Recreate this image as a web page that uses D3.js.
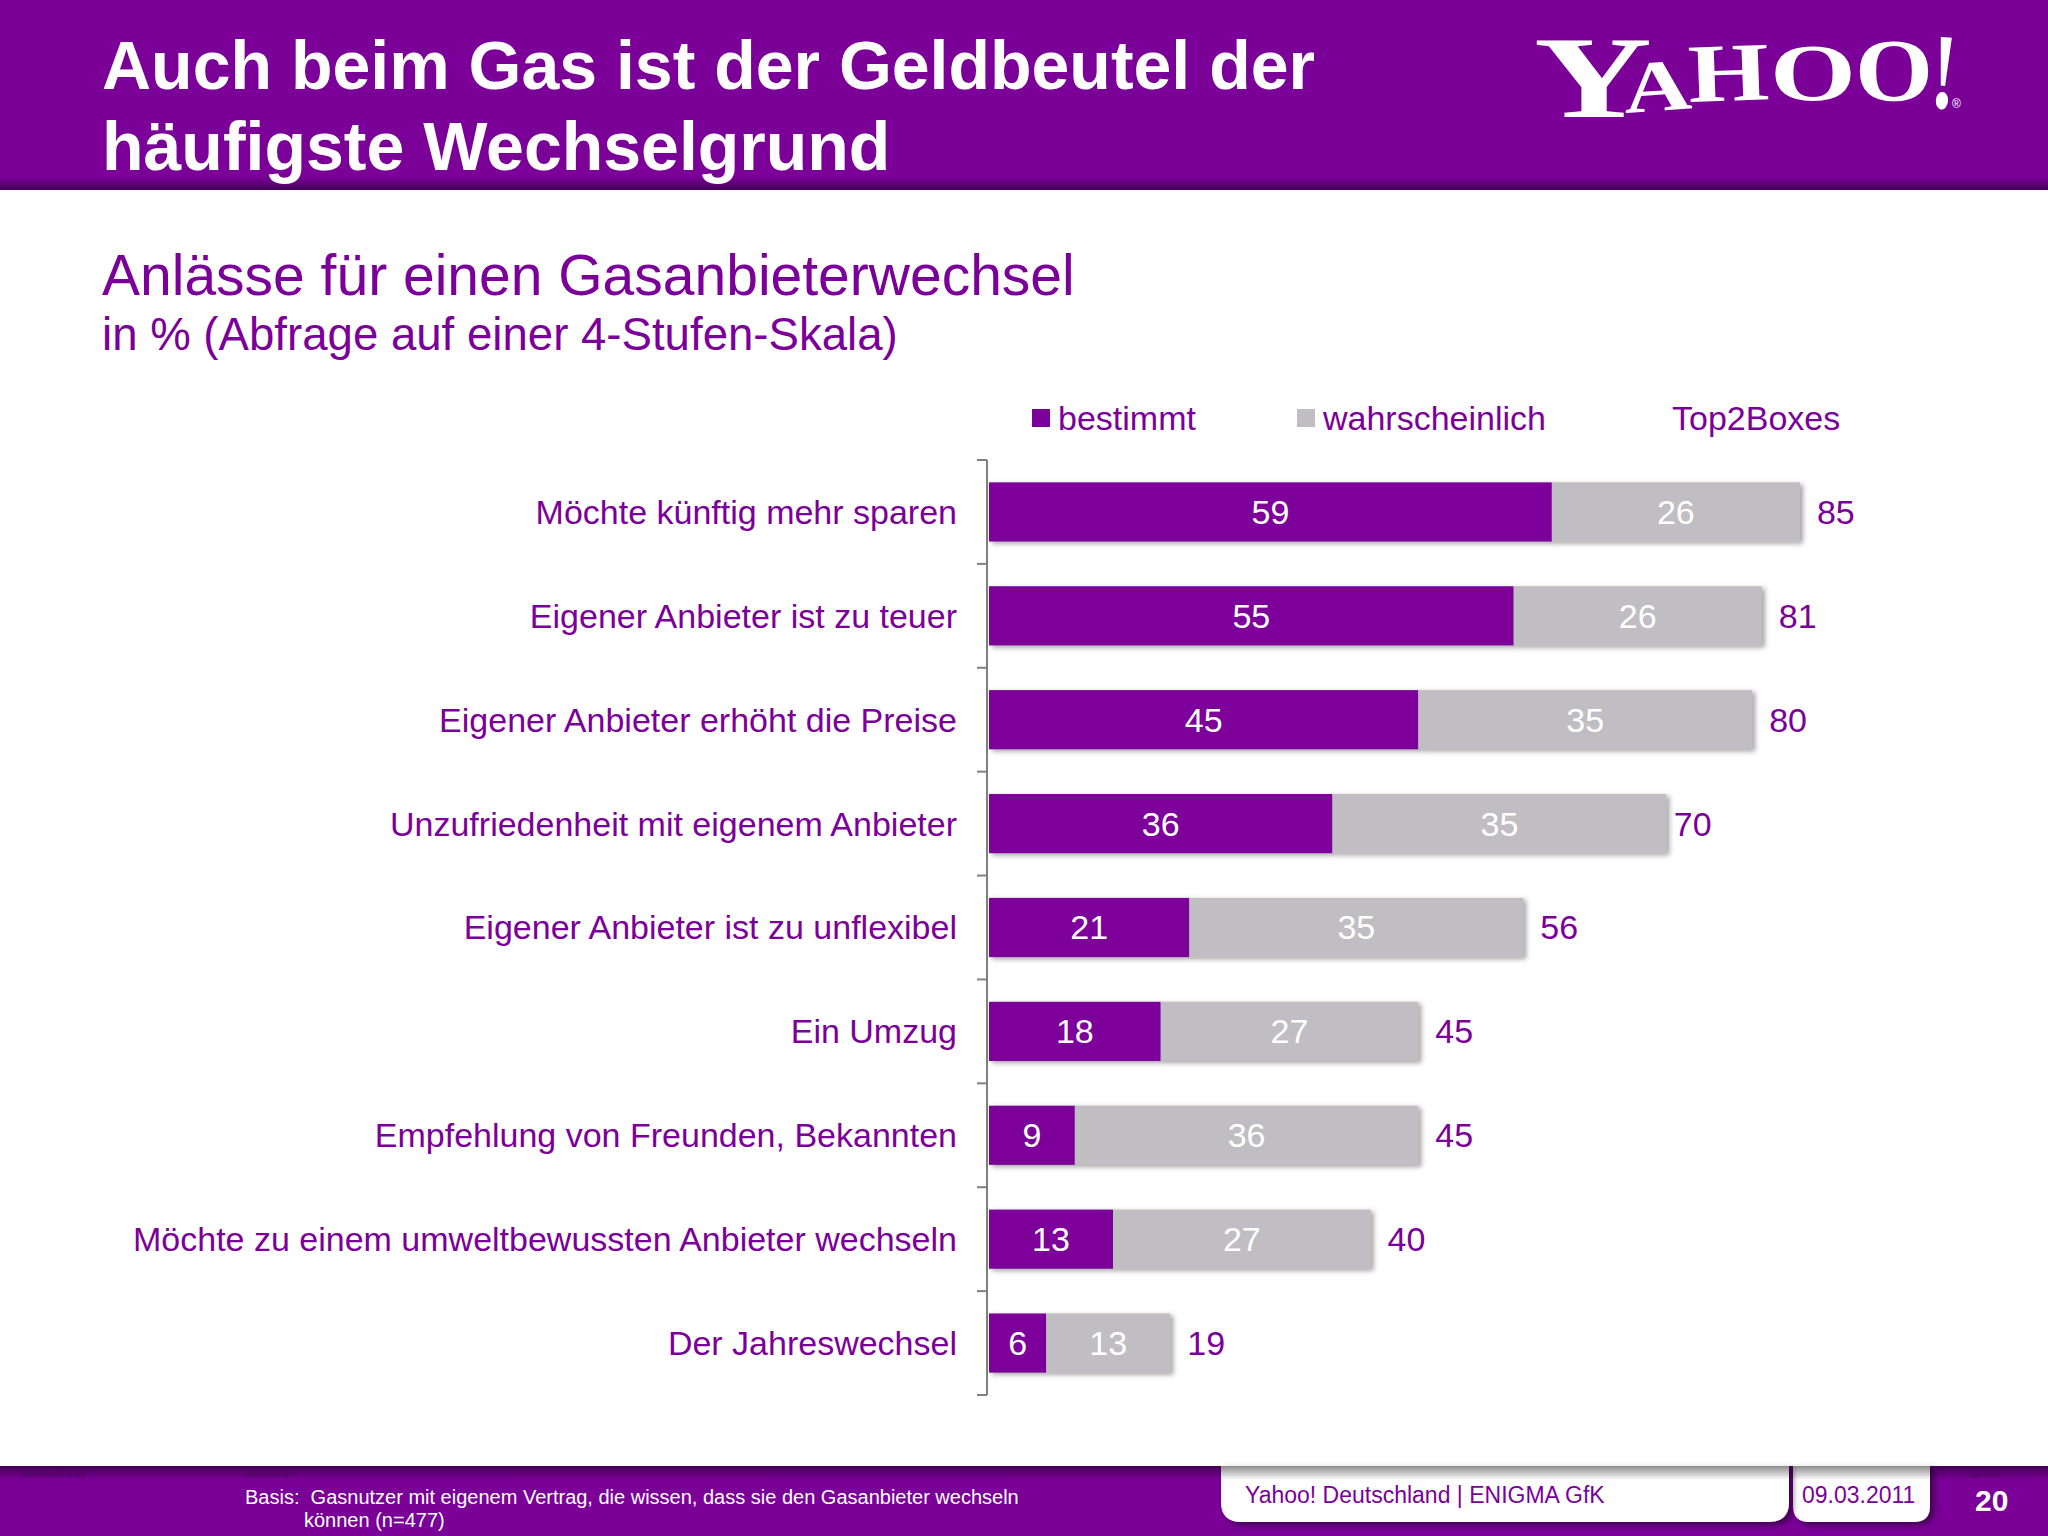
<!DOCTYPE html>
<html><head><meta charset="utf-8">
<script src="https://cdn.jsdelivr.net/npm/d3@7"></script>
<style>html,body{margin:0;padding:0;background:#fff}</style>
</head><body><svg id="c" width="2048" height="1536"></svg>
<script>
// ---- data ----
const categories = [
  "Möchte künftig mehr sparen",
  "Eigener Anbieter ist zu teuer",
  "Eigener Anbieter erhöht die Preise",
  "Unzufriedenheit mit eigenem Anbieter",
  "Eigener Anbieter ist zu unflexibel",
  "Ein Umzug",
  "Empfehlung von Freunden, Bekannten",
  "Möchte zu einem umweltbewussten Anbieter wechseln",
  "Der Jahreswechsel"
];
const bestimmt = [59, 55, 45, 36, 21, 18, 9, 13, 6];
const wahrscheinlich = [26, 26, 35, 35, 35, 27, 36, 27, 13];
const top2Boxes = [85, 81, 80, 70, 56, 45, 45, 40, 19];
const seriesNames = ["bestimmt", "wahrscheinlich"];
const top2Label = "Top2Boxes";
const titleLines = ["Auch beim Gas ist der Geldbeutel der", "häufigste Wechselgrund"];
const subtitle = "Anlässe für einen Gasanbieterwechsel";
const subtitle2 = "in % (Abfrage auf einer 4-Stufen-Skala)";
const basisLines = ["Basis:  Gasnutzer mit eigenem Vertrag, die wissen, dass sie den Gasanbieter wechseln", "können (n=477)"];

// ---- style ----
const PURPLE = "#7b0099", GRAY = "#c0bec2", FONT = "'Liberation Sans', Arial, sans-serif";
const svg = d3.select("#c");
const defs = svg.append("defs");

const hg = defs.append("linearGradient").attr("id","hg").attr("gradientUnits","userSpaceOnUse")
  .attr("x1",0).attr("y1",0).attr("x2",0).attr("y2",190);
hg.append("stop").attr("offset",0).attr("stop-color","#7a0098");
hg.append("stop").attr("offset",0.93).attr("stop-color","#7a0098");
hg.append("stop").attr("offset",1).attr("stop-color","#45005a");

const fg = defs.append("linearGradient").attr("id","fg").attr("x1",0).attr("y1",0).attr("x2",0).attr("y2",1);
fg.append("stop").attr("offset",0).attr("stop-color","#000").attr("stop-opacity",0.45);
fg.append("stop").attr("offset",1).attr("stop-color","#000").attr("stop-opacity",0);

const sh = defs.append("filter").attr("id","sh").attr("x","-5%").attr("y","-30%").attr("width","115%").attr("height","170%");
sh.append("feDropShadow").attr("dx",3).attr("dy",2).attr("stdDeviation",2.5).attr("flood-color","#555").attr("flood-opacity",0.55);
const bsh = defs.append("filter").attr("id","bsh").attr("x","-5%").attr("y","-20%").attr("width","115%").attr("height","160%");
bsh.append("feDropShadow").attr("dx",4).attr("dy",3).attr("stdDeviation",3).attr("flood-color","#000").attr("flood-opacity",0.5);

// ---- header ----
svg.append("rect").attr("x",0).attr("y",0).attr("width",2048).attr("height",190).attr("fill","url(#hg)");
svg.append("g").selectAll("text").data(titleLines).join("text")
  .attr("x",102).attr("y",(d,i)=>89+i*81)
  .attr("font-family",FONT).attr("font-weight","bold").attr("font-size",68).attr("fill","#fff").text(d=>d);

// Yahoo logo
const logo = [
  {t:"Y", x:1534, y:117, s:116, w:118, r:0},
  {t:"A", x:1625, y:113, s:73, w:68, r:-4},
  {t:"H", x:1689, y:102, s:83, w:81, r:-2},
  {t:"O", x:1770, y:100, s:81, w:86, r:0},
  {t:"O", x:1855, y:100, s:88, w:78, r:0},
  {t:"!", x:1929, y:107, s:108, w:25, r:4}
];
svg.append("g").selectAll("text").data(logo).join("text")
  .attr("transform",d=>`translate(${d.x},${d.y}) rotate(${d.r})`)
  .attr("textLength",d=>d.w).attr("lengthAdjust","spacingAndGlyphs")
  .attr("font-family","'Liberation Serif','DejaVu Serif',serif").attr("font-weight","bold")
  .attr("font-size",d=>d.s).attr("fill","#fff").text(d=>d.t);
svg.append("text").attr("x",1952).attr("y",108).attr("font-family",FONT).attr("font-size",12).attr("fill","#fff").text("®");

// ---- subtitle ----
svg.append("text").attr("x",102).attr("y",295).attr("font-family",FONT).attr("font-size",57).attr("fill",PURPLE).text(subtitle);
svg.append("text").attr("x",102).attr("y",350).attr("font-family",FONT).attr("font-size",45.6).attr("fill",PURPLE).text(subtitle2);

// ---- chart ----
const x = d3.scaleLinear().domain([0,100]).range([989,1943]);
const y = d3.scaleBand().domain(categories).range([460,1395]).paddingInner(0.43).paddingOuter(0.215);
const step = y.step();

// axis with ticks at band boundaries
const axisX = 987;
const gA = svg.append("g");
gA.append("line").attr("x1",axisX).attr("x2",axisX).attr("y1",460).attr("y2",1395).attr("stroke","#808080").attr("stroke-width",2);
const bounds = d3.range(categories.length+1).map(i=>460+i*step);
gA.selectAll("line.t").data(bounds).join("line").attr("class","t")
  .attr("x1",axisX-10).attr("x2",axisX).attr("y1",d=>d).attr("y2",d=>d).attr("stroke","#808080").attr("stroke-width",2);

// category labels
svg.append("g").selectAll("text").data(categories).join("text")
  .attr("x",957).attr("y",d=>y(d)+y.bandwidth()/2).attr("dy","0.35em")
  .attr("text-anchor","end").attr("font-family",FONT).attr("font-size",34).attr("fill",PURPLE).text(d=>d);

const rows = categories.map((c,i)=>({c, b:bestimmt[i], w:wahrscheinlich[i], t:top2Boxes[i]}));
const rowG = svg.append("g").selectAll("g").data(rows).join("g");
const barsG = rowG.append("g").attr("filter","url(#sh)");
barsG.append("rect").attr("x",x(0)).attr("y",d=>y(d.c)).attr("height",y.bandwidth())
  .attr("width",d=>x(d.b)-x(0)).attr("fill",PURPLE);
barsG.append("rect").attr("x",d=>x(d.b)).attr("y",d=>y(d.c)).attr("height",y.bandwidth())
  .attr("width",d=>x(d.b+d.w)-x(d.b)).attr("fill",GRAY);
rowG.append("text").attr("x",d=>(x(0)+x(d.b))/2).attr("y",d=>y(d.c)+y.bandwidth()/2).attr("dy","0.35em")
  .attr("text-anchor","middle").attr("font-family",FONT).attr("font-size",34).attr("fill","#fff").text(d=>d.b);
rowG.append("text").attr("x",d=>(x(d.b)+x(d.b+d.w))/2).attr("y",d=>y(d.c)+y.bandwidth()/2).attr("dy","0.35em")
  .attr("text-anchor","middle").attr("font-family",FONT).attr("font-size",34).attr("fill","#fff").text(d=>d.w);
rowG.append("text").attr("x",d=>x(d.t)+17).attr("y",d=>y(d.c)+y.bandwidth()/2).attr("dy","0.35em")
  .attr("font-family",FONT).attr("font-size",34).attr("fill",PURPLE).text(d=>d.t);

// legend
const legend = [
  {name:seriesNames[0], color:PURPLE, x:1032},
  {name:seriesNames[1], color:GRAY, x:1297}
];
const lg = svg.append("g").selectAll("g").data(legend).join("g");
lg.append("rect").attr("x",d=>d.x).attr("y",409).attr("width",18).attr("height",18).attr("fill",d=>d.color);
lg.append("text").attr("x",d=>d.x+26).attr("y",430).attr("font-family",FONT).attr("font-size",34).attr("fill",PURPLE).text(d=>d.name);
svg.append("text").attr("x",1672).attr("y",430).attr("font-family",FONT).attr("font-size",34).attr("fill",PURPLE).text(top2Label);

// ---- footer ----
svg.append("rect").attr("x",0).attr("y",1466).attr("width",2048).attr("height",70).attr("fill","#7a0098");
function boxPath(x0,x1,y0,y1,r){return `M${x0},${y0}H${x1}V${y1-r}Q${x1},${y1} ${x1-r},${y1}H${x0+r}Q${x0},${y1} ${x0},${y1-r}Z`;}
svg.append("path").attr("d",boxPath(1793,1930,1466,1522,16)).attr("fill","#fff").attr("filter","url(#bsh)");
svg.append("path").attr("d",boxPath(1221,1789,1466,1522,20)).attr("fill","#fff").attr("filter","url(#bsh)");
svg.append("rect").attr("x",0).attr("y",1466).attr("width",2048).attr("height",14).attr("fill","url(#fg)");
const tiny = [{t:"NAVIGATION",x:20},{t:"SOURCE",x:245},{t:"SLIDE",x:1970}];
svg.append("g").selectAll("text").data(tiny).join("text").attr("x",d=>d.x).attr("y",1477)
  .attr("font-family",FONT).attr("font-size",11).attr("fill","#4d0062").text(d=>d.t);
svg.append("g").selectAll("text").data(basisLines).join("text")
  .attr("x",(d,i)=>i?304:245).attr("y",(d,i)=>1504+i*23)
  .style("white-space","pre")
  .attr("font-family",FONT).attr("font-size",20).attr("fill","#fff").text(d=>d);
svg.append("text").attr("x",1245).attr("y",1503).attr("font-family",FONT).attr("font-size",23).attr("fill",PURPLE).text("Yahoo! Deutschland | ENIGMA GfK");
svg.append("text").attr("x",1802).attr("y",1503).attr("font-family",FONT).attr("font-size",23).attr("fill",PURPLE).text("09.03.2011");
svg.append("text").attr("x",1975).attr("y",1511).attr("font-family",FONT).attr("font-weight","bold").attr("font-size",30).attr("fill","#fff").text("20");
</script></body></html>
